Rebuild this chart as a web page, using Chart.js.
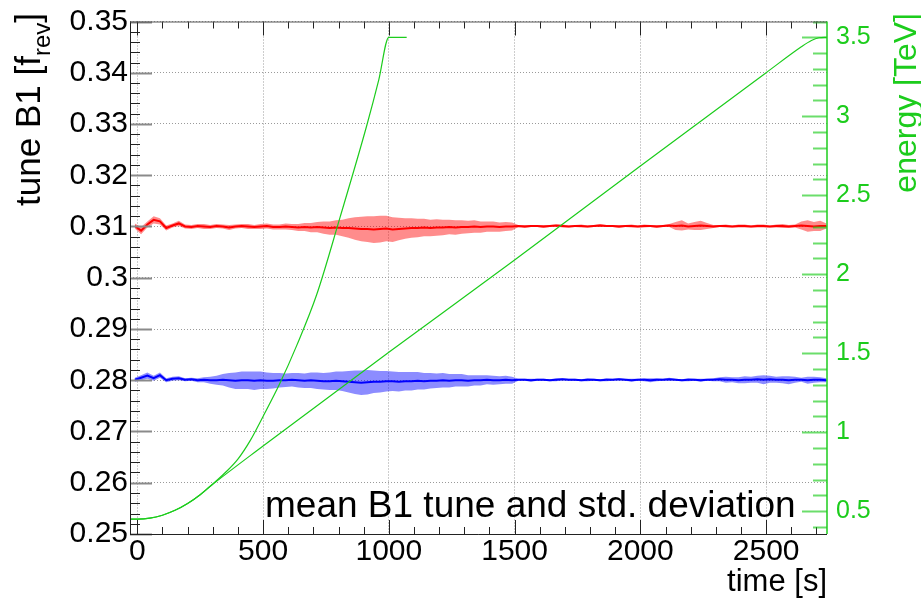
<!DOCTYPE html>
<html>
<head>
<meta charset="utf-8">
<script src="https://cdn.jsdelivr.net/npm/chart.js@4.4.1/dist/chart.umd.min.js"></script>
<style>
  html, body { margin: 0; padding: 0; background: #fff; overflow: hidden; }
  canvas { display: block; }
</style>
</head>
<body>
<canvas id="c" width="921" height="600"></canvas>
<script>
// sample times of the tune measurement [s]
const tuneTime = [
  -10, 15, 40, 65, 90, 115, 140, 165, 190, 215,
  240, 265, 290, 315, 340, 365, 390, 415, 440, 465,
  490, 515, 540, 565, 590, 615, 640, 665, 690, 715,
  740, 765, 790, 815, 840, 865, 890, 915, 940, 965,
  990, 1015, 1040, 1065, 1090, 1115, 1140, 1165, 1190, 1215,
  1240, 1265, 1290, 1315, 1340, 1365, 1390, 1415, 1440, 1465,
  1490, 1515, 1540, 1565, 1590, 1615, 1640, 1665, 1690, 1715,
  1740, 1765, 1790, 1815, 1840, 1865, 1890, 1915, 1940, 1965,
  1990, 2015, 2040, 2065, 2090, 2115, 2140, 2165, 2190, 2215,
  2240, 2265, 2290, 2315, 2340, 2365, 2390, 2415, 2440, 2465,
  2490, 2515, 2540, 2565, 2590, 2615, 2640, 2665, 2690, 2715, 2740
];

// horizontal tune (red): mean and std. deviation
const redMean = [
  0.3101, 0.3092, 0.3104, 0.3113, 0.3110, 0.3097, 0.3102, 0.3106, 0.3100, 0.3099,
  0.3101, 0.3100, 0.3099, 0.3101, 0.3100, 0.3098, 0.3100, 0.3101, 0.3100, 0.3099,
  0.3100, 0.3101, 0.3099, 0.3099, 0.3100, 0.3099, 0.3098, 0.3099, 0.3098, 0.3099,
  0.3098, 0.3097, 0.3098, 0.3097, 0.3097, 0.3096, 0.3095, 0.3095, 0.3094, 0.3095,
  0.3096, 0.3094, 0.3095, 0.3096, 0.3097, 0.3097, 0.3098, 0.3097, 0.3098, 0.3098,
  0.3099, 0.3098, 0.3099, 0.3099, 0.3100, 0.3099, 0.3100, 0.3100, 0.3099, 0.3100,
  0.3100, 0.3101, 0.3100, 0.3101, 0.3101, 0.3100, 0.3101, 0.3102, 0.3101, 0.3100,
  0.3101, 0.3101, 0.3100, 0.3101, 0.3102, 0.3101, 0.3101, 0.3100, 0.3101, 0.3101,
  0.3100, 0.3101, 0.3101, 0.3100, 0.3101, 0.3102, 0.3101, 0.3102, 0.3100, 0.3101,
  0.3102, 0.3101, 0.3100, 0.3101, 0.3101, 0.3100, 0.3101, 0.3101, 0.3100, 0.3101,
  0.3101, 0.3100, 0.3101, 0.3101, 0.3100, 0.3101, 0.3102, 0.3101, 0.3100, 0.3101, 0.3101
];
const redStd = [
  0.0005, 0.0007, 0.0006, 0.0007, 0.0006, 0.0005, 0.0004, 0.0005, 0.0004, 0.0004,
  0.0004, 0.0005, 0.0004, 0.0004, 0.0004, 0.0005, 0.0004, 0.0004, 0.0005, 0.0004,
  0.0005, 0.0005, 0.0005, 0.0005, 0.0006, 0.0006, 0.0007, 0.0008, 0.0009, 0.0010,
  0.0012, 0.0013, 0.0014, 0.0016, 0.0019, 0.0022, 0.0024, 0.0025, 0.0026, 0.0026,
  0.0025, 0.0024, 0.0022, 0.0020, 0.0019, 0.0018, 0.0017, 0.0016, 0.0016, 0.0015,
  0.0014, 0.0014, 0.0013, 0.0012, 0.0012, 0.0011, 0.0010, 0.0010, 0.0009, 0.0009,
  0.0008, 0.0002, 0.0003, 0.0002, 0.0002, 0.0003, 0.0002, 0.0002, 0.0003, 0.0002,
  0.0002, 0.0003, 0.0002, 0.0002, 0.0003, 0.0002, 0.0002, 0.0003, 0.0002, 0.0003,
  0.0002, 0.0003, 0.0002, 0.0003, 0.0002, 0.0003, 0.0008, 0.0010, 0.0006, 0.0008,
  0.0009, 0.0006, 0.0003, 0.0002, 0.0003, 0.0002, 0.0003, 0.0003, 0.0002, 0.0003,
  0.0003, 0.0002, 0.0003, 0.0004, 0.0003, 0.0003, 0.0008, 0.0011, 0.0009, 0.0010, 0.0005
];

// vertical tune (blue): mean and std. deviation
const blueMean = [
  0.2801, 0.2805, 0.2809, 0.2804, 0.2810, 0.2800, 0.2803, 0.2804, 0.2801, 0.2802,
  0.2800, 0.2801, 0.2800, 0.2800, 0.2801, 0.2800, 0.2799, 0.2800, 0.2800, 0.2799,
  0.2800, 0.2799, 0.2799, 0.2800, 0.2800, 0.2801, 0.2800, 0.2799, 0.2800, 0.2799,
  0.2798, 0.2798, 0.2799, 0.2798, 0.2797, 0.2796, 0.2795, 0.2796, 0.2797, 0.2797,
  0.2798, 0.2798, 0.2797, 0.2798, 0.2798, 0.2799, 0.2798, 0.2799, 0.2799, 0.2800,
  0.2799, 0.2800, 0.2800, 0.2799, 0.2800, 0.2800, 0.2801, 0.2800, 0.2800, 0.2801,
  0.2800, 0.2801, 0.2801, 0.2800, 0.2801, 0.2801, 0.2800, 0.2801, 0.2802, 0.2801,
  0.2801, 0.2800, 0.2801, 0.2801, 0.2800, 0.2801, 0.2801, 0.2802, 0.2801, 0.2800,
  0.2801, 0.2801, 0.2800, 0.2801, 0.2801, 0.2802, 0.2801, 0.2800, 0.2801, 0.2801,
  0.2800, 0.2801, 0.2801, 0.2802, 0.2801, 0.2801, 0.2800, 0.2801, 0.2801, 0.2802,
  0.2801, 0.2802, 0.2801, 0.2801, 0.2800, 0.2801, 0.2801, 0.2800, 0.2801, 0.2801, 0.2800
];
const blueStd = [
  0.0004, 0.0005, 0.0006, 0.0005, 0.0005, 0.0004, 0.0004, 0.0004, 0.0003, 0.0003,
  0.0004, 0.0005, 0.0007, 0.0009, 0.0011, 0.0014, 0.0016, 0.0017, 0.0017, 0.0018,
  0.0017, 0.0016, 0.0015, 0.0014, 0.0013, 0.0013, 0.0014, 0.0014, 0.0015, 0.0016,
  0.0016, 0.0017, 0.0018, 0.0019, 0.0021, 0.0023, 0.0024, 0.0024, 0.0022, 0.0021,
  0.0020, 0.0019, 0.0019, 0.0018, 0.0018, 0.0017, 0.0016, 0.0015, 0.0014, 0.0014,
  0.0013, 0.0012, 0.0012, 0.0011, 0.0010, 0.0010, 0.0009, 0.0009, 0.0008, 0.0008,
  0.0007, 0.0002, 0.0002, 0.0003, 0.0002, 0.0002, 0.0002, 0.0003, 0.0002, 0.0002,
  0.0002, 0.0002, 0.0003, 0.0002, 0.0002, 0.0003, 0.0002, 0.0002, 0.0002, 0.0003,
  0.0002, 0.0003, 0.0004, 0.0003, 0.0002, 0.0003, 0.0002, 0.0002, 0.0003, 0.0002,
  0.0003, 0.0002, 0.0003, 0.0004, 0.0006, 0.0005, 0.0006, 0.0007, 0.0006, 0.0007,
  0.0009, 0.0007, 0.0006, 0.0007, 0.0008, 0.0006, 0.0004, 0.0007, 0.0006, 0.0005, 0.0004
];

// beam energy ramps (green, right axis)
const rampFastTime   = [-29, 0, 50, 100, 150, 200, 250, 290, 350, 400, 450, 500, 567, 634, 713, 806, 912, 960, 1000, 1071];
const rampFastEnergy = [0.45, 0.45, 0.456, 0.475, 0.506, 0.549, 0.605, 0.658, 0.745, 0.83, 0.95, 1.1, 1.31, 1.55, 1.87, 2.36, 2.94, 3.23, 3.5, 3.5];
const rampSlowTime   = [-29, 0, 50, 100, 150, 200, 250, 290, 500, 1000, 1500, 2000, 2500, 2640, 2680, 2710, 2742];
const rampSlowEnergy = [0.45, 0.45, 0.456, 0.475, 0.506, 0.549, 0.605, 0.658, 0.913, 1.507, 2.09, 2.686, 3.276, 3.44, 3.48, 3.497, 3.5];

// axis ticks
const timeTicks = [0, 500, 1000, 1500, 2000, 2500];
const tuneTicks = [0.25, 0.26, 0.27, 0.28, 0.29, 0.3, 0.31, 0.32, 0.33, 0.34, 0.35];
const energyTicks = [0.5, 1, 1.5, 2, 2.5, 3, 3.5];

const FONT = '"Liberation Sans", Arial, Helvetica, sans-serif';
const GREEN = '#1ccc1c';

const band = (mean, std, sign) => tuneTime.map((t, i) => ({ x: t, y: mean[i] + sign * std[i] }));
const pts = (xs, ys) => xs.map((x, i) => ({ x, y: ys[i] }));

function tickLine(ctx, x1, y1, x2, y2) {
  ctx.beginPath(); ctx.moveTo(x1, y1); ctx.lineTo(x2, y2); ctx.stroke();
}

// ROOT-like frame: inward ticks, minor ticks, axis titles
const frame = {
  id: 'frame',
  afterDraw(chart) {
    const { ctx, chartArea: a, scales } = chart;
    const { x, y, y2 } = scales;
    ctx.save();

    // left axis ticks (minor every 0.002)
    for (let i = 0; i <= 50; i++) {
      const py = Math.round(y.getPixelForValue(0.25 + i * 0.002)) + 0.5;
      if (i % 5 === 0) { ctx.strokeStyle = '#8a8a8a'; ctx.lineWidth = 2; tickLine(ctx, a.left, py, a.left + 22, py); }
      else { ctx.strokeStyle = '#222'; ctx.lineWidth = 1; tickLine(ctx, a.left, py, a.left + 10, py); }
    }
    // bottom and top ticks (minor every 100 s)
    ctx.strokeStyle = '#222'; ctx.lineWidth = 1;
    for (let t = 0; t <= 2700; t += 100) {
      const px = Math.round(x.getPixelForValue(t)) + 0.5;
      const len = t % 500 === 0 ? 14 : 7;
      tickLine(ctx, px, a.bottom, px, a.bottom - len);
      tickLine(ctx, px, a.top, px, a.top + len);
    }
    // right axis ticks (minor every 0.1 TeV)
    ctx.strokeStyle = 'rgba(28,204,28,0.65)'; ctx.lineWidth = 2;
    for (let i = 4; i <= 36; i++) {
      const py = Math.round(y2.getPixelForValue(i / 10)) + 0.5;
      const len = i % 5 === 0 ? 25 : 14;
      tickLine(ctx, a.right, py, a.right - len, py);
    }

    // frame
    ctx.lineWidth = 1;
    ctx.strokeStyle = '#222';
    tickLine(ctx, a.left + 0.5, a.top, a.left + 0.5, a.bottom);
    tickLine(ctx, a.left, a.bottom + 0.5, a.right, a.bottom + 0.5);
    ctx.strokeStyle = '#555';
    tickLine(ctx, a.left, a.top + 0.5, a.right, a.top + 0.5);
    ctx.strokeStyle = GREEN; ctx.lineWidth = 1.5;
    tickLine(ctx, a.right, a.top, a.right, a.bottom);

    // in-plot title
    ctx.fillStyle = '#000';
    ctx.textBaseline = 'alphabetic';
    ctx.textAlign = 'left';
    ctx.font = '37px ' + FONT;
    ctx.fillText('mean B1 tune and std. deviation', 265, 517);

    // x title
    ctx.textAlign = 'right';
    ctx.font = '31px ' + FONT;
    ctx.fillText('time [s]', a.right, 591);

    // left title with subscript, rotated
    ctx.save();
    ctx.translate(40, 13);
    ctx.rotate(-Math.PI / 2);
    ctx.textAlign = 'left';
    const mainFont = '35px ' + FONT, subFont = '24px ' + FONT;
    ctx.font = mainFont; const w1 = ctx.measureText('tune B1 [f').width; const w3 = ctx.measureText(']').width;
    ctx.font = subFont; const w2 = ctx.measureText('rev').width;
    let sx = -(w1 + w2 + w3);
    ctx.font = mainFont; ctx.fillText('tune B1 [f', sx, 0);
    ctx.font = subFont; ctx.fillText('rev', sx + w1, 10);
    ctx.font = mainFont; ctx.fillText(']', sx + w1 + w2, 0);
    ctx.restore();

    // right title, rotated
    ctx.save();
    ctx.translate(916, 13);
    ctx.rotate(-Math.PI / 2);
    ctx.textAlign = 'right';
    ctx.fillStyle = GREEN;
    ctx.font = '32px ' + FONT;
    ctx.fillText('energy [TeV]', 0, 0);
    ctx.restore();

    ctx.restore();
  }
};

const gridDash = { display: false, dash: [1, 2] };

new Chart(document.getElementById('c'), {
  type: 'line',
  data: {
    datasets: [
      { data: band(redMean, redStd, 1), yAxisID: 'y', borderWidth: 0, pointRadius: 0, fill: '+1', backgroundColor: 'rgba(255,0,0,0.45)', order: 3 },
      { data: band(redMean, redStd, -1), yAxisID: 'y', borderWidth: 0, pointRadius: 0, fill: false, order: 3 },
      { data: band(blueMean, blueStd, 1), yAxisID: 'y', borderWidth: 0, pointRadius: 0, fill: '+1', backgroundColor: 'rgba(0,0,255,0.45)', order: 3 },
      { data: band(blueMean, blueStd, -1), yAxisID: 'y', borderWidth: 0, pointRadius: 0, fill: false, order: 3 },
      { data: pts(tuneTime, redMean), yAxisID: 'y', borderColor: '#ff0000', borderWidth: 2, pointRadius: 0, fill: false, order: 2 },
      { data: pts(tuneTime, blueMean), yAxisID: 'y', borderColor: '#0000ff', borderWidth: 2, pointRadius: 0, fill: false, order: 2 },
      { data: pts(rampFastTime, rampFastEnergy), yAxisID: 'y2', borderColor: GREEN, borderWidth: 1.2, pointRadius: 0, fill: false, cubicInterpolationMode: 'monotone', order: 1 },
      { data: pts(rampSlowTime, rampSlowEnergy), yAxisID: 'y2', borderColor: GREEN, borderWidth: 1.2, pointRadius: 0, fill: false, cubicInterpolationMode: 'monotone', order: 1 }
    ]
  },
  options: {
    responsive: false,
    devicePixelRatio: 1,
    animation: false,
    layout: { padding: { top: 15, left: 0, right: 0, bottom: 0 } },
    plugins: { legend: { display: false }, tooltip: { enabled: false } },
    scales: {
      x: {
        type: 'linear', position: 'bottom', min: -29, max: 2742,
        afterBuildTicks: s => { s.ticks = timeTicks.map(v => ({ value: v })); },
        afterFit: s => { s.height = 66; },
        ticks: { font: { family: FONT, size: 30, lineHeight: 1 }, color: '#000', padding: 3, maxRotation: 0, autoSkip: false, callback: v => String(v) },
        grid: { color: '#9a9a9a', lineWidth: 1, drawTicks: false },
        border: gridDash
      },
      y: {
        type: 'linear', position: 'left', min: 0.25, max: 0.35,
        afterBuildTicks: s => { s.ticks = tuneTicks.map(v => ({ value: v })); },
        afterFit: s => { s.width = 130; },
        ticks: { font: { family: FONT, size: 30, lineHeight: 1 }, color: '#000', padding: 2, autoSkip: false, callback: v => String(v) },
        grid: { color: '#9a9a9a', lineWidth: 1, drawTicks: false },
        border: gridDash
      },
      y2: {
        type: 'linear', position: 'right', min: 0.356, max: 3.6,
        afterBuildTicks: s => { s.ticks = energyTicks.map(v => ({ value: v })); },
        afterFit: s => { s.width = 94; },
        ticks: { font: { family: FONT, size: 25, lineHeight: 1 }, color: GREEN, padding: 9, autoSkip: false, callback: v => String(v) },
        grid: { display: false, drawTicks: false },
        border: { display: false }
      }
    }
  },
  plugins: [frame]
});
</script>
</body>
</html>
